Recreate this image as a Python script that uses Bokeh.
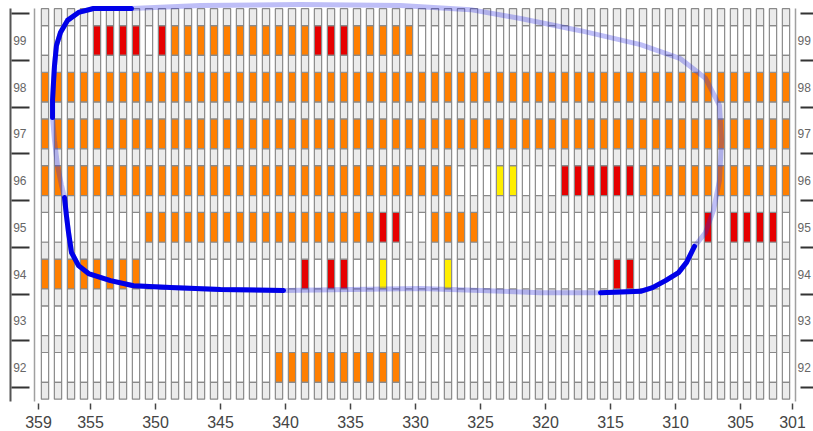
from bokeh.plotting import figure
from bokeh.models import LinearAxis, FixedTicker, ColumnDataSource, Range1d
from bokeh.core.properties import value
from bokeh.embed import file_html
from bokeh.resources import INLINE

# ---------------- data ----------------
years = [99, 98, 97, 96, 95, 94, 93, 92]
lon_edges = list(range(359, 301, -1))          # each cell spans [edge-1, edge]
x_ticks = [359, 355, 350, 345, 340, 335, 330, 325, 320, 315, 310, 305, 301]

# cell state per row, one char per cell from 359 (left) to 301 (right)
# '.' none, 'o' orange, 'r' red, 'y' yellow
status = {
    99: "....rrrr.r oooooooooo orrrooooo. .......... .......... ........",
    98: "oooooooooo oooooooooo oooooooooo oooooooooo oooooooooo oooooooo",
    97: "oooooooooo oooooooooo oooooooooo oooooooooo oooooooooo oooooooo",
    96: "oooooooooo oooooooooo oooooooooo oo...yy... rrrrrroooo oooooooo",
    95: "........oo oooooooooo oooooorr.. oooo...... .......... .r.rrrr.",
    94: "oooooooo.. .......... r.rr..y... .y........ ....rr.... ........",
    93: ".......... .......... .......... .......... .......... ........",
    92: ".......... ........oo oooooooo.. .......... .......... ........",
}
state_colors = {".": "#ffffff", "o": "#ff7f00", "r": "#e60000", "y": "#ffee00"}

# track (lon, row) - solid parts and the faint parts joining them
solid1_x = [351.85, 354.77, 355.92, 356.77, 357.31, 357.62, 357.77, 357.85, 357.92, 357.92]
solid1_y = [99.685, 99.685, 99.60, 99.43, 99.17, 98.89, 98.46, 98.08, 97.72, 97.35]
faint1_x = [357.92, 357.77, 357.54, 357.23, 357.00]
faint1_y = [97.35, 96.86, 96.32, 95.90, 95.64]
solid2_x = [357.00, 356.85, 356.69, 356.46, 355.92, 355.15, 353.46, 351.69, 348.85, 345.00, 340.15]
solid2_y = [95.64, 95.25, 94.89, 94.46, 94.18, 94.01, 93.86, 93.75, 93.71, 93.67, 93.65]
faint2_x = [340.15, 335.00, 329.62, 325.00, 320.38, 315.77]
faint2_y = [93.65, 93.67, 93.69, 93.65, 93.60, 93.60]
solid3_x = [315.77, 312.69, 311.77, 310.77, 309.77, 309.15, 308.54]
solid3_y = [93.60, 93.63, 93.71, 93.86, 94.03, 94.25, 94.59]
faint3_x = [308.54, 307.69, 307.08, 306.62, 306.46, 306.62, 307.69, 309.62, 312.69, 317.31,
            321.92, 325.77, 331.15, 338.85, 346.54, 351.85]
faint3_y = [94.59, 94.89, 95.36, 96.00, 96.86, 97.61, 98.19, 98.61, 98.91, 99.21,
            99.47, 99.66, 99.75, 99.77, 99.75, 99.685]

# ---------------- figure ----------------
x0, x1 = 360.077, 300.0
y0, y1 = 90.629, 99.856
panel_left, panel_right = 359.31, 300.77
panel_bottom, panel_top = 91.271, 99.69
x_label_row = 90.822

p = figure(width=813, height=431, x_range=Range1d(x0, x1), y_range=Range1d(y0, y1),
           output_backend="svg", toolbar_location=None,
           x_axis_location=None, y_axis_location=None,
           min_border_left=24, min_border_right=8, min_border_top=0, min_border_bottom=0)
p.outline_line_color = None
p.grid.grid_line_color = None
p.background_fill_color = "white"

# main cells
mx, my, mc = [], [], []
for yr in years:
    s = status[yr].replace(" ", "")
    for e, ch in zip(lon_edges, s):
        mx.append(e - 0.5)
        my.append(yr)
        mc.append(state_colors[ch])
p.rect(x="x", y="y", width=0.56, height=0.64, fill_color="c", line_color="#8a8a8a", line_width=1.2,
       source=ColumnDataSource(dict(x=mx, y=my, c=mc)))

# small separator cells between rows
gaps = [yr + 0.5 for yr in years] + [min(years) - 0.5]
sx, sy = [], []
for g in gaps:
    for e in lon_edges:
        sx.append(e - 0.5)
        sy.append(g)
p.rect(x=sx, y=sy, width=0.56, height=0.36, fill_color="#ebebeb", line_color="#8a8a8a", line_width=1.2)

# track
loop_x = solid1_x + faint1_x + solid2_x + faint2_x + solid3_x + faint3_x
loop_y = solid1_y + faint1_y + solid2_y + faint2_y + solid3_y + faint3_y
p.line(loop_x, loop_y, line_color="#2828e6", line_alpha=0.3, line_width=5,
       line_join="round", line_cap="round")
p.multi_line([solid1_x, solid2_x, solid3_x], [solid1_y, solid2_y, solid3_y],
             line_color="#0000e8", line_width=5, line_join="round", line_cap="round")

# ---------------- axes ----------------
bounds = [yr + 0.57 for yr in years] + [min(years) - 0.43]
font = "Liberation Sans"

def label_axis(standoff):
    return LinearAxis(ticker=FixedTicker(ticks=years), bounds=(panel_bottom, panel_top),
                      axis_line_color=None,
                      major_tick_line_color=None, major_tick_out=0, major_tick_in=0,
                      minor_tick_line_color=None, minor_tick_out=0, minor_tick_in=0,
                      major_label_standoff=standoff, major_label_text_font=font,
                      major_label_text_font_size="12px", major_label_text_color="#666666")

def tick_axis(line_color, tin, tout):
    return LinearAxis(ticker=FixedTicker(ticks=[], minor_ticks=bounds), bounds=(panel_bottom, panel_top),
                      axis_line_color=line_color, axis_line_width=2,
                      major_tick_out=0, major_tick_in=0, major_label_standoff=0,
                      major_tick_line_color=None,
                      minor_tick_line_color="#333333", minor_tick_line_width=2,
                      minor_tick_in=tin, minor_tick_out=tout,
                      major_label_text_font_size="0px")

def border_axis(loc):
    return LinearAxis(ticker=FixedTicker(ticks=[]), fixed_location=loc, bounds=(panel_bottom, panel_top),
                      axis_line_color="#a0a0a0", axis_line_width=1.5,
                      major_tick_line_color=None, minor_tick_line_color=None,
                      major_tick_out=0, major_tick_in=0, major_label_standoff=0,
                      major_label_text_font_size="0px")

p.add_layout(label_axis(-2), "left")
p.add_layout(tick_axis("#555555", 19, -1), "left")
p.add_layout(label_axis(-8), "right")
p.add_layout(tick_axis(None, 13, 0), "right")
p.add_layout(border_axis(panel_left), "left")
p.add_layout(border_axis(panel_right), "right")

# x axis: ticks at the panel bottom, labels under them
xa = LinearAxis(ticker=FixedTicker(ticks=x_ticks), fixed_location=panel_bottom,
                axis_line_color=None,
                major_tick_line_color="#444444", major_tick_line_width=1.5,
                major_tick_in=-2, major_tick_out=8,
                minor_tick_line_color=None, major_label_standoff=0,
                major_label_overrides={t: "" for t in x_ticks},
                major_label_text_font_size="0px")
p.add_layout(xa, "below")
p.text(x=x_ticks, y=[x_label_row] * len(x_ticks), text=[str(t) for t in x_ticks],
       text_font=value(font), text_font_size="16px", text_color="#444444",
       text_align="center", text_baseline="middle")

open("out.html", "w").write(file_html(p, INLINE))
